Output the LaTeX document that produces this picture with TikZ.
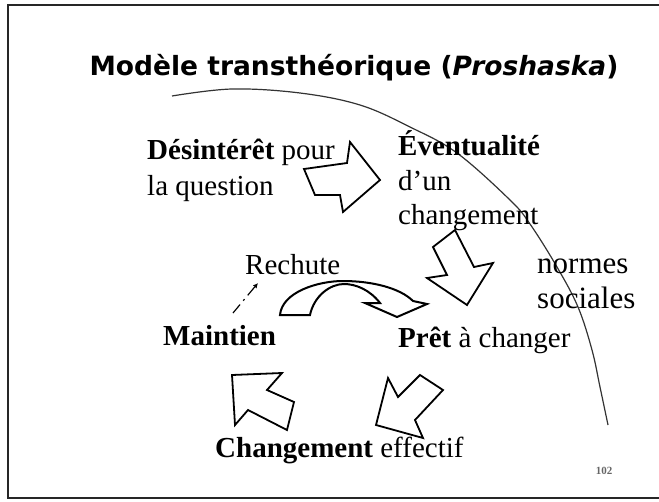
\documentclass[tikz,border=0pt]{standalone}
\usepackage{fontspec}
\setmainfont{Liberation Serif}
\newfontfamily\titlefont{DejaVu Sans}
\usetikzlibrary{arrows.meta}
\tikzset{
  lbl/.style={anchor=base west, inner sep=0pt, font=\fontsize{29}{35}\selectfont},
  blockarrow/.style={draw=black, fill=white, line width=1.8pt, line join=miter},
}
\begin{document}
\begin{tikzpicture}[x=1pt,y=-1pt]
\useasboundingbox (0,0) rectangle (659,501);
% frame
\draw[line width=2.6pt, black!85] (664,5) -- (8,5) -- (8,498) -- (664,498);
% title
\node[anchor=base, inner sep=0pt, font=\titlefont\bfseries\fontsize{26.5}{30}\selectfont] (title) at (354,75) {Modèle transthéorique (\textit{Proshaska})};
% big arc
\draw[line width=1.2pt, black!80] plot[smooth, tension=0.6] coordinates {(172,96) (232,89) (300,93) (360,105) (410,127) (457,153) (510,200) (530,224) (557,267) (578,307) (592,350) (600,387) (608,425)};
% texts
\node[lbl] (des1) at (147,159) {\textbf{Désintérêt} pour};
\node[lbl] (des2) at (147,195) {la question};
\node[lbl] (ev1) at (398,155) {\textbf{Éventualité}};
\node[lbl] (ev2) at (398,190) {d’un};
\node[lbl] (ev3) at (398,224) {changement};
\node[lbl] (rech) at (245,274) {Rechute};
\node[lbl, font=\fontsize{31}{35}\selectfont] (norm1) at (537,273) {normes};
\node[lbl, font=\fontsize{31}{35}\selectfont] (norm2) at (537,308) {sociales};
\node[lbl] (maint) at (163,345) {\textbf{Maintien}};
\node[lbl] (pret) at (398,347) {\textbf{Prêt} à changer};
\node[lbl] (chg) at (215,457) {\textbf{Changement} effectif};
\node[anchor=base, inner sep=0pt, font=\bfseries\fontsize{11}{12}\selectfont, text=black!60] (num) at (604,474) {102};
% block arrows
\draw[blockarrow] (304,169) -- (347,163) -- (350,142) -- (380,180) -- (343,212) -- (340,195) -- (315,195) -- cycle;
\draw[blockarrow] (455,230) -- (433,247) -- (447,275) -- (427,278) -- (467,305) -- (493,263) -- (474,267) -- cycle;
\draw[blockarrow] (388,378) -- (398,397) -- (420,375) -- (443,390) -- (415,420) -- (423,438) -- (376,425) -- cycle;
\draw[blockarrow] (232,375) -- (282,373) -- (267,390) -- (294,402) -- (287,430) -- (248,410) -- (235,425) -- cycle;
% curved Rechute arrow
\draw[blockarrow, line width=2pt] (280,315) .. controls (282,292) and (318,281) .. (343,281) .. controls (372,281) and (400,288) .. (413,301) -- (427,304) -- (397,317) -- (365,303) -- (380,303) .. controls (370,290) and (356,284) .. (344,284) .. controls (330,284) and (314,296) .. (310,315) -- cycle;
% dashed relapse link
\coordinate (dA) at (233,313);
\coordinate (dB) at (258,283);
\draw[line width=1.2pt, dash pattern=on 11pt off 5pt on 2pt off 5pt, -{Latex[length=5pt,width=5pt]}] (dA) -- (dB);
\end{tikzpicture}
\end{document}
